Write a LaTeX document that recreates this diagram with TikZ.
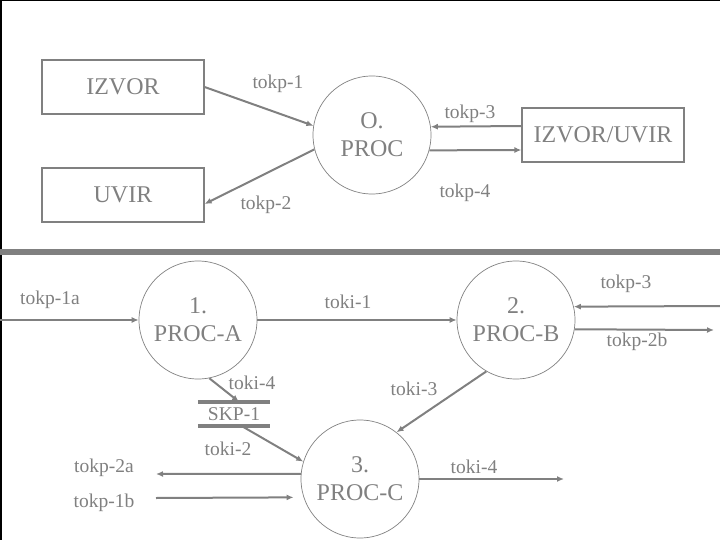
\documentclass[tikz,border=0pt]{standalone}
\usepackage{fontspec}
\setmainfont{Liberation Serif}
\usetikzlibrary{arrows.meta,calc}
\definecolor{dg}{HTML}{808080}
\begin{document}
\begin{tikzpicture}[x=1pt,y=-1pt,
  every node/.style={text=dg, inner sep=0pt},
  big/.style={font=\fontsize{24}{28}\selectfont},
  lbl/.style={font=\fontsize{19.5}{23}\selectfont},
  box/.style={draw=dg, line width=1.2pt, minimum width=162pt, minimum height=54pt, big},
  proc/.style={draw=dg, circle, line width=0.7pt, minimum size=118pt, big, align=center},
  flow/.style={draw=dg, line width=2pt, -{Latex[length=7pt,width=6pt]}},
  storeline/.style={draw=dg, line width=4pt},
]
\useasboundingbox (0,0) rectangle (720,540);
% frame and divider
\draw[black, line width=3pt] (0,0) -- (720,0);
\draw[black, line width=4pt] (0,0) -- (0,540);
\fill[dg] (0,249) rectangle (720,255);

% ---- top diagram ----
\node[box] (izvor) at (123,87) {IZVOR};
\node[box] (uvir) at (123,195) {UVIR};
\node[box] (izuv) at (603,135) {IZVOR/UVIR};
\node[proc] (oproc) at (372,135) {O.\\PROC};

\draw[flow] (izvor.east) -- (oproc.171);
\draw[flow] (oproc.194) -- ($(uvir.east)+(0,9)$);
\draw[flow] ($(izuv.west)+(0,-9)$) -- (oproc.8.6);
\draw[flow] (oproc.-15) -- ($(izuv.west)+(0,15)$);

\node[lbl] (t1) at (278,84) {tokp-1};
\node[lbl] (t2) at (266,205) {tokp-2};
\node[lbl] (t3) at (470,114) {tokp-3};
\node[lbl] (t4) at (465,193) {tokp-4};

% ---- bottom diagram ----
\node[proc] (pa) at (198,320) {1.\\PROC-A};
\node[proc] (pb) at (516,320) {2.\\PROC-B};
\node[proc] (pc) at (360,479) {3.\\PROC-C};
\node[lbl, minimum width=72pt, minimum height=24pt] (skp) at (234,414) {SKP-1};
\draw[storeline] (skp.north west) -- (skp.north east);
\draw[storeline] (skp.south west) -- (skp.south east);

\coordinate (in1a) at (0,320);
\coordinate (r3) at (720,306);
\coordinate (r2b) at (714,330);
\coordinate (o4) at (564,479);
\coordinate (o2a) at (156,474);
\coordinate (i1b) at (156,498);

\draw[flow] (in1a) -- (pa.west);
\draw[flow] (pa.east) -- (pb.west);
\draw[flow] (r3) -- (pb.13.5);
\draw[flow] (pb.-9.7) -- (r2b);
\draw[flow] (pb.240) -- (pc.52);
\draw[flow] (pc.east) -- (o4);
\draw[flow] (pa.-79) -- ($(skp.north)+(5,0)$);
\draw[flow] ($(skp.south)+(8,0)$) -- (pc.163);
\draw[flow] (pc.175) -- (o2a);
\draw[flow, shorten >=10pt] (i1b) -- (pc.198);

\node[lbl] (l1a) at (50,300) {tokp-1a};
\node[lbl] (li1) at (348,302) {toki-1};
\node[lbl] (lp3) at (626,284) {tokp-3};
\node[lbl] (lp2b) at (637,342) {tokp-2b};
\node[lbl] (li4a) at (252,383) {toki-4};
\node[lbl] (li2) at (228,449) {toki-2};
\node[lbl] (li3) at (414,389) {toki-3};
\node[lbl] (li4b) at (474,467) {toki-4};
\node[lbl] (lp2a) at (104,468) {tokp-2a};
\node[lbl] (lp1b) at (104,503) {tokp-1b};
\end{tikzpicture}
\end{document}
